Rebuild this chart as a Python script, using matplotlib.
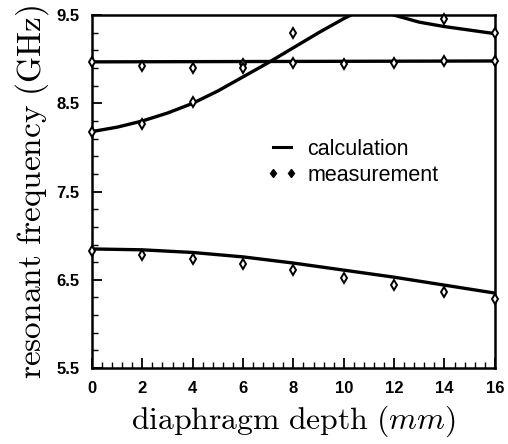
import matplotlib
matplotlib.use("Agg")
import matplotlib.pyplot as plt
from matplotlib.lines import Line2D
from matplotlib.ticker import MultipleLocator

plt.rcParams["mathtext.fontset"] = "cm"

# measured points (diaphragm depth in mm, frequency in GHz)
depth_meas = [0, 2, 4, 6, 8, 10, 12, 14, 16]
mode1_meas = [6.83, 6.78, 6.74, 6.68, 6.61, 6.52, 6.44, 6.36, 6.28]
mode2_meas = [8.97, 8.92, 8.90, 8.95, 8.96, 8.95, 8.96, 8.98, 8.98]
depth_mode3_meas = [0, 2, 4, 6, 8, 14, 16]
mode3_meas = [8.18, 8.27, 8.52, 8.90, 9.30, 9.46, 9.30]

# calculated curves
depth_calc = [0, 2, 4, 6, 8, 10, 12, 14, 16]
mode1_calc = [6.85, 6.84, 6.81, 6.76, 6.69, 6.61, 6.53, 6.44, 6.35]
depth_flat = [0, 16]
mode2_calc = [8.97, 8.98]
depth_calc3 = [0, 1, 2, 3, 4, 5, 6, 7, 8, 9, 10, 10.5, 11, 11.5, 12, 13, 14, 15, 16]
mode3_calc = [8.18, 8.23, 8.30, 8.39, 8.50, 8.64, 8.80, 8.96, 9.13, 9.30, 9.46,
              9.53, 9.57, 9.55, 9.50, 9.42, 9.37, 9.33, 9.29]

fig = plt.figure(figsize=(5.08, 4.44), dpi=100)
ax = fig.add_axes([0.181, 0.171, 0.793, 0.795])

line_kw = dict(color="black", linewidth=2.4, solid_capstyle="butt")
ax.plot(depth_calc, mode1_calc, **line_kw)
ax.plot(depth_flat, mode2_calc, **line_kw)
ax.plot(depth_calc3, mode3_calc, **line_kw)

mk_kw = dict(linestyle="none", marker="d", markersize=5.2, markerfacecolor="white",
             markeredgecolor="black", markeredgewidth=1.4, clip_on=False, zorder=3)
ax.plot(depth_meas, mode1_meas, **mk_kw)
ax.plot(depth_meas, mode2_meas, **mk_kw)
ax.plot(depth_mode3_meas, mode3_meas, **mk_kw)

ax.set_xlim(0, 16)
ax.set_ylim(5.5, 9.5)
ax.xaxis.set_major_locator(MultipleLocator(2))
ax.xaxis.set_minor_locator(MultipleLocator(0.4))
ax.set_yticks([5.5, 6.5, 7.5, 8.5, 9.5])
ax.yaxis.set_minor_locator(MultipleLocator(0.2, offset=0.1))
ax.tick_params(which="major", direction="in", length=7, width=1.3, pad=9)
ax.tick_params(which="minor", direction="in", length=4, width=1.0)
ax.tick_params(axis="y", which="both", left=True, right=False)
ax.tick_params(axis="x", which="both", bottom=True, top=False)
for lab in ax.get_xticklabels() + ax.get_yticklabels():
    lab.set_fontfamily("Liberation Sans")
    lab.set_fontweight("bold")
    lab.set_fontsize(12)
for sp in ax.spines.values():
    sp.set_linewidth(1.8)

ax.set_xlabel(r"$\mathrm{diaphragm\ depth}\ (mm)$", fontsize=22.8, labelpad=6)
ax.set_ylabel(r"$\mathrm{resonant\ frequency\ (GHz)}$", fontsize=24, labelpad=4)

handles = [
    Line2D([], [], color="black", linewidth=2.2),
    Line2D([], [], linestyle="none", marker="d", markersize=4.5, color="black"),
]
leg = ax.legend(handles, ["calculation", "measurement"], loc="upper left",
                bbox_to_anchor=(0.385, 0.705), frameon=False, numpoints=2,
                handlelength=1.45, handletextpad=0.45, labelspacing=0.25,
                prop={"family": "Liberation Sans", "size": 15.5})

fig.savefig("out.png", dpi=100)
